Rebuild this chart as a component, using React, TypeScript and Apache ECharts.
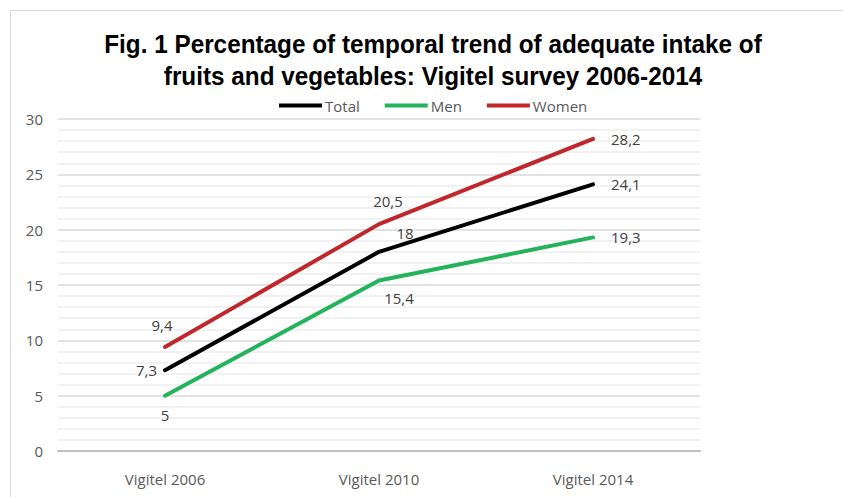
import React, { useEffect, useRef } from "react";
import * as echarts from "echarts";

const categories = ["Vigitel 2006", "Vigitel 2010", "Vigitel 2014"];
const totalValues = [7.3, 18, 24.1];
const menValues = [5, 15.4, 19.3];
const womenValues = [9.4, 20.5, 28.2];
const yTicks = { min: 0, max: 30, interval: 5 };
const titleLines = [
  "Fig. 1 Percentage of temporal trend of adequate intake of",
  "fruits and vegetables: Vigitel survey 2006-2014",
];

const fmt = (v: number) => String(v).replace(".", ",");

const labelFont = {
  fontFamily: "'Open Sans', Lato, sans-serif",
  fontSize: 15,
  color: "#404040",
};

function pointLabels(values: number[], cfgs: any[]) {
  return values.map((v, i) => ({
    value: v,
    label: { show: true, formatter: fmt(v), ...labelFont, ...cfgs[i] },
  }));
}

const titleFont = "bold 26px 'Liberation Sans Narrow', 'Arial Narrow', 'Liberation Sans', sans-serif";

export default function App() {
  const ref = useRef<HTMLDivElement>(null);
  useEffect(() => {
    const chart = echarts.init(ref.current!, null, { renderer: "svg" });
    const lineSeries = (name: string, color: string, values: number[], cfgs: any[], z: number) => ({
      name,
      type: "line",
      color,
      lineStyle: { width: 4, cap: "round" },
      symbol: "circle",
      symbolSize: 0,
      showSymbol: true,
      z,
      zlevel: 0,
      data: pointLabels(values, cfgs),
    });
    chart.setOption({
      animation: false,
      backgroundColor: "#fff",
      graphic: [
        {
          type: "polyline",
          shape: { points: [[10.5, 497], [10.5, 10.5], [843, 10.5]] },
          style: { stroke: "#d9d9d9", lineWidth: 1, fill: "none" },
        },
        {
          type: "text",
          x: 433,
          y: 44,
          scaleX: 0.935,
          style: {
            text: titleLines[0],
            font: titleFont,
            fill: "#000",
            align: "center",
            verticalAlign: "middle",
          },
        },
        {
          type: "text",
          x: 433,
          y: 76,
          scaleX: 0.935,
          style: {
            text: titleLines[1],
            font: titleFont,
            fill: "#000",
            align: "center",
            verticalAlign: "middle",
          },
        },
      ],
      legend: {
        left: 274,
        top: 93,
        itemWidth: 43,
        itemHeight: 4,
        itemGap: 25,
        icon: "rect",
        textStyle: {
          fontFamily: "'Open Sans', Lato, sans-serif",
          fontSize: 15,
          color: "#595959",
          padding: [0, 0, 0, -2],
        },
        data: ["Total", "Men", "Women"],
      },
      grid: { left: 58, right: 143, top: 119, bottom: 46, containLabel: false },
      xAxis: {
        type: "category",
        data: categories,
        boundaryGap: true,
        axisLine: { lineStyle: { color: "#bfbfbf", width: 2 } },
        axisTick: { show: false },
        axisLabel: {
          margin: 20,
          fontFamily: "'Open Sans', Lato, sans-serif",
          fontSize: 15,
          color: "#595959",
        },
      },
      yAxis: {
        type: "value",
        min: yTicks.min,
        max: yTicks.max,
        interval: yTicks.interval,
        axisLine: { show: false },
        axisTick: { show: false },
        axisLabel: {
          margin: 15,
          fontFamily: "'Open Sans', Lato, sans-serif",
          fontSize: 15,
          color: "#595959",
        },
        splitLine: { lineStyle: { color: "#d9d9d9", width: 1.5 } },
        minorTick: { show: false, splitNumber: 5 },
        minorSplitLine: { show: true, lineStyle: { color: "#ececec", width: 1.5 } },
      },
      series: [
        lineSeries("Total", "#000000", totalValues, [
          { position: "left", distance: 8 },
          { position: "top", offset: [26, 0], distance: 11 },
          { position: "right", distance: 18 },
        ], 3),
        lineSeries("Men", "#22b35b", menValues, [
          { position: "bottom", distance: 12 },
          { position: "bottom", offset: [20, 0], distance: 10 },
          { position: "right", distance: 18 },
        ], 2),
        lineSeries("Women", "#c0272d", womenValues, [
          { position: "top", offset: [-3, 0], distance: 14 },
          { position: "top", offset: [9, 0], distance: 16 },
          { position: "right", distance: 18 },
        ], 2),
      ],
    });
    return () => chart.dispose();
  }, []);
  return <div ref={ref} style={{ width: 843, height: 497, position: "absolute", left: 0, top: 0 }} />;
}
